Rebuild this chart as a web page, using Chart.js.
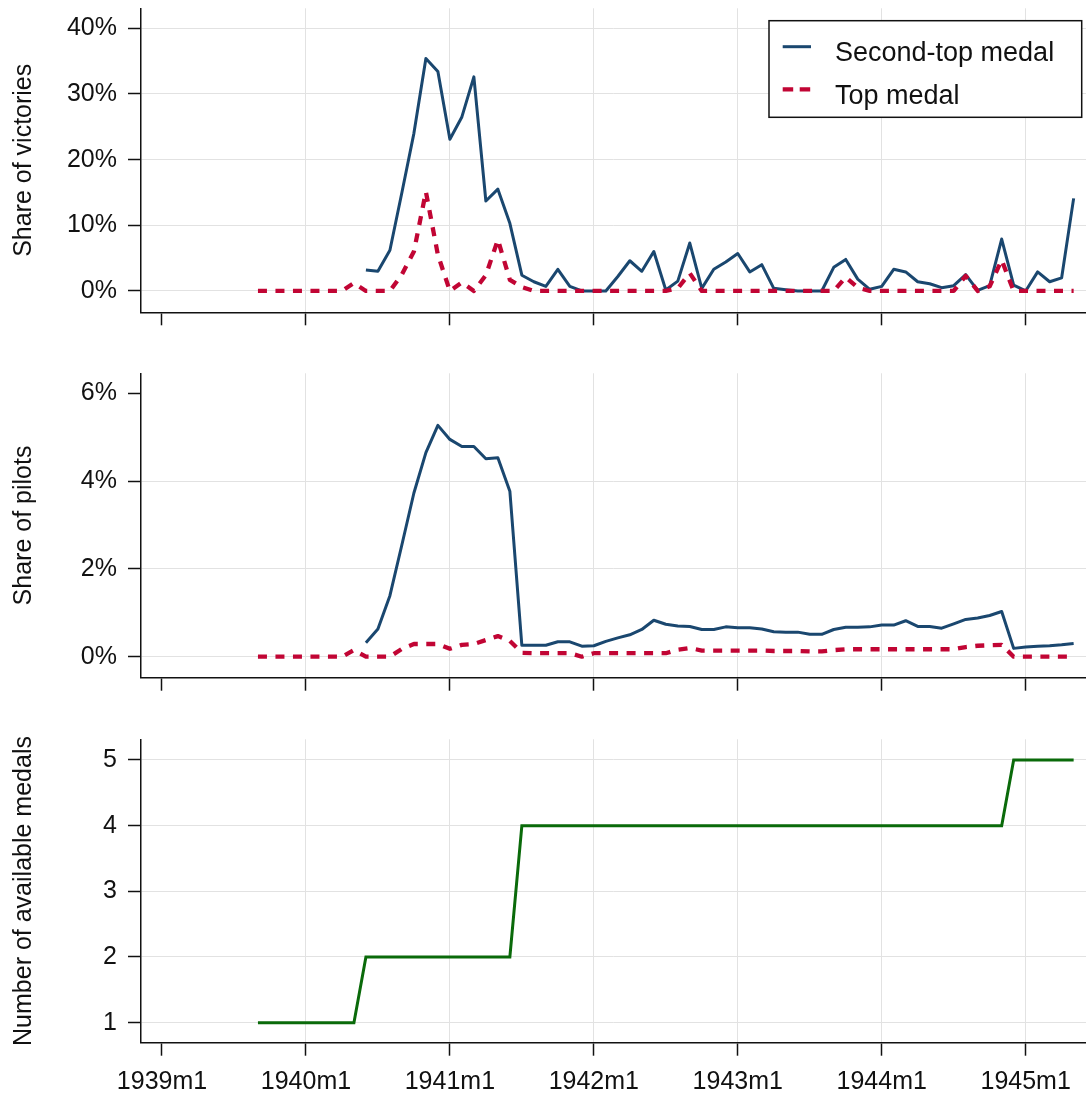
<!DOCTYPE html>
<html>
<head>
<meta charset="utf-8">
<script src="https://cdn.jsdelivr.net/npm/chart.js@4/dist/chart.umd.min.js"></script>
<style>
html,body{margin:0;padding:0;background:#fff;width:1086px;height:1095px;overflow:hidden;}
canvas{position:absolute;left:0;}
</style>
</head>
<body>
<canvas id="c1" width="1086" height="345" style="top:0px"></canvas>
<canvas id="c2" width="1086" height="355" style="top:345px"></canvas>
<canvas id="c3" width="1086" height="395" style="top:700px"></canvas>
<script>
// ---------------- DATA ----------------
const months = [
  '1939m9','1939m10','1939m11','1939m12',
  '1940m1','1940m2','1940m3','1940m4','1940m5','1940m6','1940m7','1940m8','1940m9','1940m10','1940m11','1940m12',
  '1941m1','1941m2','1941m3','1941m4','1941m5','1941m6','1941m7','1941m8','1941m9','1941m10','1941m11','1941m12',
  '1942m1','1942m2','1942m3','1942m4','1942m5','1942m6','1942m7','1942m8','1942m9','1942m10','1942m11','1942m12',
  '1943m1','1943m2','1943m3','1943m4','1943m5','1943m6','1943m7','1943m8','1943m9','1943m10','1943m11','1943m12',
  '1944m1','1944m2','1944m3','1944m4','1944m5','1944m6','1944m7','1944m8','1944m9','1944m10','1944m11','1944m12',
  '1945m1','1945m2','1945m3','1945m4','1945m5'
];
const xTickLabels = ['1939m1','1940m1','1941m1','1942m1','1943m1','1944m1','1945m1'];

// Share of victories (%)
const victoriesSecondTop = [
  null,null,null,null,null,null,null,null,null,
  3.2,3.0,6.2,15.0,24.0,35.4,33.4,23.1,26.5,32.6,13.7,15.5,10.3,
  2.4,1.4,0.7,3.3,0.7,0,0,0,2.2,4.6,
  3.0,6.0,0.15,1.5,7.3,0.4,3.3,4.4,5.7,2.9,
  4.0,0.4,0.2,0,0,0,3.6,4.8,1.8,0.25,
  0.7,3.3,2.9,1.4,1.1,0.5,0.8,2.5,0.1,0.8,
  7.9,0.9,0,2.9,1.4,2.0,14.1
];
const victoriesTop = [
  0,0,0,0,0,0,0,0,
  1.2,0,0,0,2.5,6.0,15.1,5.5,0,1.3,0,2.4,7.8,1.7,0.6,
  0,0,0,0,0,0,0,0,0,0,0,0,
  0.4,2.7,
  0,0,0,0,0,0,0,0,0,0,0,0,
  2.1,0.5,
  0,0,0,0,0,0,0,0,
  2.3,0,0.7,4.7,
  0,0,0,0,0,0
];

// Share of pilots (%)
const pilotsSecondTop = [
  null,null,null,null,null,null,null,null,null,
  0.32,0.63,1.39,2.55,3.73,4.65,5.27,4.95,4.79,4.79,4.51,4.53,3.77,
  0.26,0.26,0.26,0.34,0.34,0.24,0.25,0.35,0.43,0.50,
  0.62,0.83,0.74,0.70,0.69,0.62,0.62,0.68,0.66,0.66,
  0.63,0.57,0.56,0.56,0.51,0.51,0.62,0.67,0.67,0.68,
  0.72,0.72,0.82,0.69,0.69,0.65,0.75,0.85,0.88,0.94,
  1.03,0.19,0.22,0.24,0.25,0.27,0.30
];
const pilotsTop = [
  0,0,0,0,0,0,0,0,
  0.15,0,0,0,0.18,0.29,0.29,0.29,0.18,0.27,0.29,0.38,0.47,0.36,0.09,
  0.08,0.08,0.08,0.08,0,0.08,0.08,0.08,0.08,0.08,0.08,0.08,
  0.16,0.2,
  0.14,0.14,0.14,0.14,0.14,0.14,0.13,0.13,0.13,0.12,0.12,0.15,
  0.17,0.17,0.17,0.17,0.17,0.17,0.17,0.17,0.17,0.17,
  0.22,0.25,0.26,0.27,
  0,0,0,0,0,0
];

// Number of available medals
const availableMedals = [
  1,1,1,1,1,1,1,1,1,
  2,2,2,2,2,2,2,2,2,2,2,2,2,
  4,4,4,4,4,4,4,4,4,4,
  4,4,4,4,4,4,4,4,4,4,
  4,4,4,4,4,4,4,4,4,4,
  4,4,4,4,4,4,4,4,4,4,
  4,
  5,5,5,5,5,5
];

const victoriesTicks = [0,10,20,30,40];
const pilotsTicks = [0,2,4,6];
const medalsTicks = [1,2,3,4,5];

const seriesNames = ['Second-top medal','Top medal'];
const yTitles = ['Share of victories','Share of pilots','Number of available medals'];

// ---------------- STYLE ----------------
const FONT = '"Liberation Sans", Arial, Helvetica, sans-serif';
const BLUE = '#1a476f';
const RED = '#c10534';
const GREEN = '#0a6a0a';
const GRID = '#e2e2e2';
const AXIS = '#111111';
const TEXT = '#111111';

function monthToX(lab){ const p = lab.split('m'); return (parseInt(p[0])-1939)*12 + (parseInt(p[1])-1); }
const xTickValues = xTickLabels.map(monthToX);
function pts(series){ return months.map((m,i)=>({x: monthToX(m), y: series[i]})); }

const X_MIN = -1.75, X_MAX = 77.03;

function xScale(showLabels, h){
  return {
    type:'linear', min:X_MIN, max:X_MAX,
    afterBuildTicks: s => { s.ticks = xTickValues.map(v=>({value:v})); },
    afterFit: s => { s.height = h; s.paddingLeft = 0; s.paddingRight = 0; },
    grid:{
      color: c => (c.tick && c.tick.value === 0) ? 'rgba(0,0,0,0)' : GRID,
      lineWidth:1, drawTicks:true, tickLength:13, tickWidth:1.5, tickColor:AXIS
    },
    border:{display:true, color:AXIS, width:1.5},
    ticks:{
      display:showLabels, autoSkip:false, maxRotation:0, padding:11,
      color:TEXT, font:{family:FONT, size:25},
      callback: v => { const i = xTickValues.indexOf(v); return i>=0 ? xTickLabels[i] : ''; }
    }
  };
}
function yScale(min, max, tickVals, fmt, title, hide){
  return {
    type:'linear', position:'left', min, max,
    afterBuildTicks: s => { s.ticks = tickVals.map(v=>({value:v})); },
    afterFit: s => { s.width = 141; s.paddingTop = 0; s.paddingBottom = 0; },
    grid:{
      color: c => (c.tick && hide.indexOf(c.tick.value) >= 0) ? 'rgba(0,0,0,0)' : GRID,
      lineWidth:1, drawTicks:true, tickLength:13, tickWidth:1.5, tickColor:AXIS
    },
    border:{display:true, color:AXIS, width:1.5},
    ticks:{ padding:11, color:TEXT, font:{family:FONT, size:25}, callback: fmt },
    title:{ display:true, text:title, color:TEXT, font:{family:FONT, size:25}, padding:{top:9,bottom:0} }
  };
}
const pct = v => v + '%';
const num = v => String(v);

const legendPlugin = {
  id:'boxLegend',
  afterDraw(chart){
    const ctx = chart.ctx, ca = chart.chartArea;
    const L = ca.right - 317, T = ca.top + 12.4, W = 312.7, H = 96.6;
    ctx.save();
    ctx.fillStyle = '#fff';
    ctx.fillRect(L, T, W, H);
    ctx.strokeStyle = AXIS; ctx.lineWidth = 1.5;
    ctx.strokeRect(L, T, W, H);
    const ds = chart.data.datasets.filter(d => d.inLegend);
    const rows = [{ly:T+26, ty:T+40}, {ly:T+68.6, ty:T+83.5}];
    ds.forEach((d, i) => {
      const r = rows[i];
      ctx.beginPath();
      ctx.strokeStyle = d.borderColor; ctx.lineWidth = d.borderWidth;
      ctx.setLineDash(d.legendDash || []);
      ctx.lineCap = 'butt';
      ctx.moveTo(L+13.7, r.ly); ctx.lineTo(L+42, r.ly);
      ctx.stroke();
      ctx.setLineDash([]);
      ctx.fillStyle = TEXT;
      ctx.font = '27px ' + FONT;
      ctx.textBaseline = 'alphabetic'; ctx.textAlign = 'left';
      ctx.fillText(d.label, L+66, r.ty);
    });
    ctx.restore();
  }
};

const common = { responsive:false, animation:false, devicePixelRatio:1,
  plugins:{legend:{display:false}, tooltip:{enabled:false}},
  elements:{point:{radius:0}, line:{tension:0}} };

// Panel 1
new Chart(document.getElementById('c1'), {
  type:'line',
  data:{ datasets:[
    {label:seriesNames[0], data:pts(victoriesSecondTop), borderColor:BLUE, borderWidth:3, order:1, inLegend:true, spanGaps:false, borderJoinStyle:'round'},
    {label:seriesNames[1], data:pts(victoriesTop), borderColor:RED, borderWidth:4.3, borderDash:[9,8.5], legendDash:[10.5,6.5], order:0, inLegend:true, borderJoinStyle:'round'}
  ]},
  options:Object.assign({}, common, {
    layout:{padding:{top:8.3, left:0, right:0, bottom:0}},
    scales:{ x:xScale(false, 32.7), y:yScale(-3.25, 43.04, victoriesTicks, pct, yTitles[0], []) }
  }),
  plugins:[legendPlugin]
});

// Panel 2
new Chart(document.getElementById('c2'), {
  type:'line',
  data:{ datasets:[
    {label:seriesNames[0], data:pts(pilotsSecondTop), borderColor:BLUE, borderWidth:3, order:1, borderJoinStyle:'round'},
    {label:seriesNames[1], data:pts(pilotsTop), borderColor:RED, borderWidth:4.3, borderDash:[9,8.5], order:0, borderJoinStyle:'round'}
  ]},
  options:Object.assign({}, common, {
    layout:{padding:{top:28.3, left:0, right:0, bottom:0}},
    scales:{ x:xScale(false, 22.3), y:yScale(-0.478, 6.456, pilotsTicks, pct, yTitles[1], [6]) }
  })
});

// Panel 3
new Chart(document.getElementById('c3'), {
  type:'line',
  data:{ datasets:[
    {label:yTitles[2], data:pts(availableMedals), borderColor:GREEN, borderWidth:3, borderJoinStyle:'miter'}
  ]},
  options:Object.assign({}, common, {
    layout:{padding:{top:39.3, left:0, right:0, bottom:0}},
    scales:{ x:xScale(true, 52.3), y:yScale(0.695, 5.315, medalsTicks, num, yTitles[2], []) }
  })
});
</script>
</body>
</html>
